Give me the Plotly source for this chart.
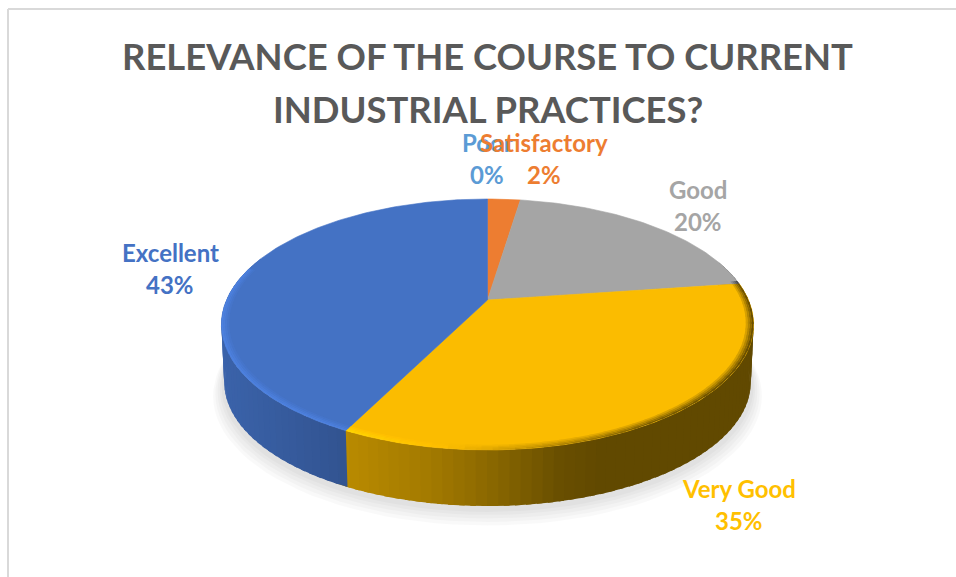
import numpy as np
import plotly.graph_objects as go

title_lines = ["RELEVANCE OF THE COURSE TO CURRENT", "INDUSTRIAL PRACTICES?"]
title_y = [56, 109]
categories = ["Poor", "Satisfactory", "Good", "Very Good", "Excellent"]
values = [0, 2.4, 20.4, 34.6, 42.6]
colors = ["#5b9bd5", "#ed7d31", "#a5a5a5", "#fbbc00", "#4472c4"]
label_colors = ["#5b9bd5", "#ed7d31", "#a5a5a5", "#ffc000", "#4472c4"]
label_x = [487, 544, 698, 739, 170]
label_y = [142, 142, 189, 488, 252]

# perspective of the pie disc, in pixels of the page
CX, CY = 487.5, 300
A, B, K = 120.7, 261, 0.195
DEPTH = 58


def project(deg, r=1.0, dy=0.0):
    t = np.radians(deg)
    u, v = r * np.sin(t), -r * np.cos(t)
    w = 1 - K * v
    return CX + B * u / w, CY + A * v / w + dy


def shade(color, f):
    rgb = [int(color[i:i + 2], 16) for i in (1, 3, 5)]
    return "rgb(%d,%d,%d)" % tuple(min(255, c * f) for c in rgb)


def poly(xs, ys, color, opacity=1.0, edge=False):
    return go.Scatter(x=list(xs), y=list(ys), mode="lines", fill="toself", fillcolor=color,
                      line=dict(color=color, width=0.6 if edge else 0), opacity=opacity,
                      hoverinfo="skip", showlegend=False)


def band(a0, a1, r0, r1, dy0, dy1):
    x0, y0 = project(a0, r0, dy0)
    x1, y1 = project(a1, r0, dy0)
    x2, y2 = project(a1, r1, dy1)
    x3, y3 = project(a0, r1, dy1)
    return [x0, x1, x2, x3, x0], [y0, y1, y2, y3, y0]


fig = go.Figure()

# soft shadow below the pie
ring = np.arange(0, 361, 3)
for grow, off in [(1.03, 12), (1.022, 10), (1.014, 8), (1.006, 6), (1.0, 4)]:
    px, py = project(ring, grow, DEPTH + off)
    fig.add_trace(poly(px, py, "#000000", 0.024))

# slice spans in degrees, clockwise from the top
edges = np.cumsum([0] + values) / sum(values) * 360
side_x = [221, 345, 430, 487, 560, 600, 760]
side_f = [0.87, 0.74, 0.65, 0.56, 0.42, 0.39, 0.39]
rim_x = [221, 345, 450, 520, 650, 760]
rim_f = [1.14, 1.14, 1.0, 0.8, 0.5, 0.42]

# side wall, each strip runs a little under the next one so no seams show
for i, val in enumerate(values):
    if val == 0:
        continue
    for a0 in np.arange(edges[i], edges[i + 1], 2.0):
        if not 70 < a0 < 290:
            continue
        mid = project(a0 + 1)[0]
        xs, ys = band(a0, a0 + 3.0, 1.0, 0.99, 0, DEPTH)
        fig.add_trace(poly(xs, ys, shade(colors[i], np.interp(mid, side_x, side_f))))

# top faces
for i, val in enumerate(values):
    if val == 0:
        continue
    a = np.linspace(edges[i], edges[i + 1], max(2, int(val * 3.6) + 1))
    px, py = project(a)
    fig.add_trace(poly([CX] + list(px) + [CX], [CY] + list(py) + [CY], colors[i], edge=True))

# bevel along the front rim
steps = [0.972, 0.979, 0.986, 0.993, 1.0]
for i, val in enumerate(values):
    if val == 0:
        continue
    for a0 in np.arange(edges[i], edges[i + 1], 3.0):
        if not 78 < a0 < 282:
            continue
        a1 = a0 + 4.0 if a0 + 4.0 < edges[i + 1] else edges[i + 1]
        edge_f = np.interp(project(a0 + 1.5)[0], rim_x, rim_f)
        for s in range(4):
            f = 1 + (edge_f - 1) * (s + 1) / 4
            xs, ys = band(a0, a1, steps[s], steps[s + 1], 0, 0)
            fig.add_trace(poly(xs, ys, shade(colors[i], f)))

annotations = []
for line, yy in zip(title_lines, title_y):
    annotations.append(dict(x=487.5, y=yy, text="<b>%s</b>" % line, showarrow=False,
                            font=dict(family="Lato", size=36.4, color="#595959")))

# data labels
for i, name in enumerate(categories):
    pct = "%d%%" % round(values[i] / sum(values) * 100)
    for text, yy in ((name, label_y[i]), (pct, label_y[i] + 32)):
        annotations.append(dict(x=label_x[i], y=yy, text="<b>%s</b>" % text, showarrow=False,
                                font=dict(family="Lato", size=24, color=label_colors[i])))

fig.update_layout(
    width=956, height=577, margin=dict(l=0, r=0, t=0, b=0),
    paper_bgcolor="white", plot_bgcolor="white", showlegend=False,
    annotations=annotations,
    xaxis=dict(range=[0, 956], visible=False, fixedrange=True),
    yaxis=dict(range=[577, 0], visible=False, fixedrange=True),
    shapes=[
        dict(type="line", x0=8, x1=956, y0=9, y1=9, line=dict(color="#d9d9d9", width=2)),
        dict(type="line", x0=8, x1=8, y0=9, y1=577, line=dict(color="#d9d9d9", width=2)),
    ],
)

fig.write_html("out.html", config={"displayModeBar": False},
               post_script="document.body.style.margin='0';")
